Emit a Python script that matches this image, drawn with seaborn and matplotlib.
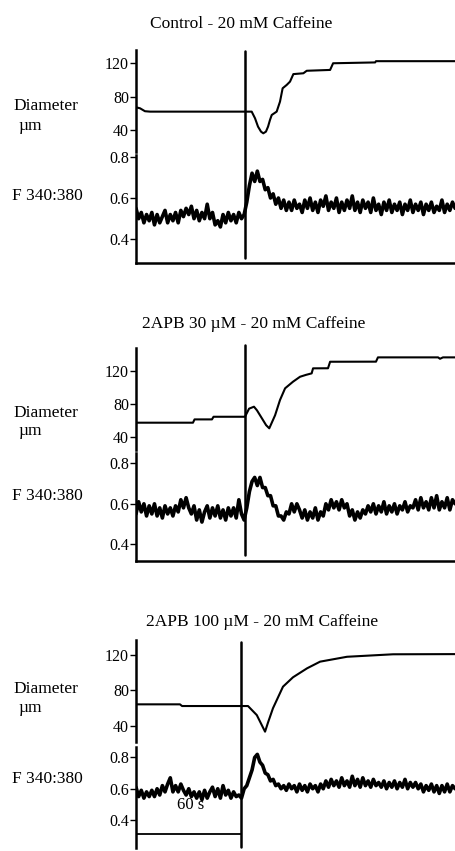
import numpy as np
import matplotlib
matplotlib.use("Agg")
import matplotlib.pyplot as plt
import matplotlib.transforms as mtransforms
import seaborn as sns

# ---------------- data ----------------
titles = ["Control - 20 mM Caffeine",
          "2APB 30 \u00b5M - 20 mM Caffeine",
          "2APB 100 \u00b5M - 20 mM Caffeine"]
stim_times = [62, 62, 60]          # s, caffeine application
diam_ticks = [40, 80, 120]
ratio_ticks = [0.4, 0.6, 0.8]
ratio_tick_labels = ["0.4", "0.6", "0.8"]
scale_bar_s = 60
scale_bar_label = "60 s"

# Diameter traces (time s, diameter um)
diam1_t = [0, 2.3, 5.1, 8, 65.8, 67.7, 69.4, 71.1, 72.4, 73.9, 75.1, 76.2, 77.2,
           80, 81.9, 83.4, 85.7, 87.6, 89.5, 95.2, 97.1, 110.4, 112.1, 136, 136.5, 181.5]
diam1_v = [67.2, 66, 62.5, 62, 62, 54, 44, 38, 36, 38, 44, 52, 58,
           62, 74, 90, 94, 98, 107, 108, 111, 112, 120, 121, 122.5, 122.5]

diam2_t = [0, 32.4, 33.3, 43.2, 44.1, 62, 64.3, 67.1, 68.8, 71.7, 74, 75.8, 79.1,
           81.9, 84.8, 89.3, 93.3, 96.7, 99.9, 100.7, 109.2, 110.4, 136.5, 137.6,
           171.8, 172.9, 174.6, 181.5]
diam2_v = [57, 57, 61, 61, 64.2, 64.2, 74, 76.4, 72, 62, 54, 50.2, 66,
           84.5, 98.7, 106.7, 112.7, 115, 116.8, 122.9, 123, 130.9, 131, 136.2,
           136.2, 134.5, 136.2, 136.2]

diam3_t = [0, 25, 26.2, 63.7, 68.7, 73.4, 75.1, 77.9, 83.6, 89.3, 97.3, 104.7,
           120, 146.2, 181.5]
diam3_v = [64.4, 64.4, 62.5, 62.5, 52.3, 33.6, 44, 60, 84.3, 94.9, 105, 112.5,
           118, 120.8, 121]

# Fura-2 ratio traces, sampled every 1.5 s
ratio_t = np.arange(0, 182, 1.5)
ratio1 = [0.55, 0.50, 0.53, 0.48, 0.52, 0.49, 0.53, 0.47, 0.52, 0.48,
          0.51, 0.54, 0.48, 0.52, 0.49, 0.53, 0.48, 0.54, 0.51, 0.55,
          0.52, 0.56, 0.50, 0.54, 0.49, 0.53, 0.50, 0.57, 0.50, 0.53,
          0.47, 0.49, 0.46, 0.52, 0.48, 0.53, 0.49, 0.52, 0.48, 0.53,
          0.50, 0.52,
          0.58, 0.66, 0.72, 0.68, 0.73, 0.68, 0.69, 0.64, 0.65, 0.60,
          0.62, 0.57, 0.60, 0.55, 0.59, 0.54,
          0.58, 0.54, 0.59, 0.55, 0.57, 0.53, 0.59, 0.55, 0.60, 0.54,
          0.58, 0.53, 0.59, 0.56, 0.61, 0.54, 0.58, 0.55, 0.60, 0.53,
          0.58, 0.54, 0.59, 0.55, 0.61, 0.54, 0.58, 0.53, 0.59, 0.55,
          0.58, 0.53, 0.60, 0.54, 0.57, 0.52, 0.58, 0.54, 0.59, 0.53,
          0.57, 0.54, 0.58, 0.52, 0.57, 0.54, 0.59, 0.53, 0.57, 0.54,
          0.58, 0.52, 0.57, 0.54, 0.58, 0.53, 0.56, 0.54, 0.59, 0.53,
          0.57, 0.54, 0.58, 0.55]
ratio2 = [0.55, 0.61, 0.56, 0.60, 0.54, 0.59, 0.55, 0.60, 0.54, 0.58,
          0.53, 0.59, 0.55, 0.58, 0.54, 0.59, 0.56, 0.62, 0.58, 0.63,
          0.58, 0.55, 0.59, 0.52, 0.57, 0.51, 0.56, 0.59, 0.53, 0.58,
          0.54, 0.59, 0.53, 0.57, 0.52, 0.58, 0.54, 0.58, 0.53, 0.62,
          0.55, 0.52,
          0.58, 0.66, 0.71, 0.73, 0.69, 0.73, 0.68, 0.68, 0.64, 0.64,
          0.59, 0.59, 0.54, 0.54, 0.52, 0.56,
          0.55, 0.60, 0.56, 0.60, 0.57,
          0.53, 0.57, 0.52, 0.56, 0.53, 0.58, 0.52, 0.56, 0.54,
          0.60, 0.57, 0.62, 0.58, 0.61, 0.57, 0.62, 0.58, 0.60,
          0.54, 0.57, 0.52, 0.56, 0.53, 0.57, 0.55, 0.59,
          0.56, 0.60, 0.55, 0.59, 0.56, 0.61, 0.55, 0.59, 0.56, 0.60,
          0.55, 0.59, 0.57, 0.61, 0.56, 0.59,
          0.58, 0.62, 0.57, 0.63, 0.58, 0.61, 0.57, 0.63, 0.58, 0.64,
          0.57, 0.61, 0.58, 0.63, 0.57, 0.62, 0.60]
ratio3 = [0.61, 0.55, 0.59, 0.54, 0.58, 0.55, 0.59, 0.55, 0.60, 0.56,
          0.62, 0.58, 0.63, 0.67, 0.58, 0.62, 0.58, 0.63, 0.59, 0.56,
          0.60, 0.55, 0.58, 0.54, 0.58, 0.53, 0.59, 0.54, 0.58, 0.61,
          0.55, 0.60, 0.54, 0.62, 0.56, 0.59, 0.54, 0.58, 0.55, 0.56,
          0.54, 0.60,
          0.62, 0.67, 0.72, 0.80, 0.82, 0.77, 0.75, 0.70, 0.69, 0.65,
          0.66, 0.62, 0.63, 0.60,
          0.62, 0.59, 0.63, 0.60, 0.62, 0.58, 0.63, 0.59, 0.62, 0.58,
          0.63, 0.60, 0.62, 0.58, 0.63, 0.60,
          0.65, 0.61, 0.66, 0.62, 0.65, 0.61, 0.67, 0.62, 0.65, 0.61,
          0.68, 0.62, 0.66, 0.61, 0.67, 0.62, 0.65, 0.61, 0.66, 0.62,
          0.64,
          0.61, 0.65, 0.60, 0.64, 0.61, 0.65, 0.60, 0.64, 0.61, 0.66,
          0.60, 0.64, 0.61, 0.64, 0.60, 0.63,
          0.58, 0.62, 0.59, 0.63, 0.58, 0.62, 0.57, 0.62, 0.58, 0.63,
          0.58, 0.62, 0.60]

diam_t = [diam1_t, diam2_t, diam3_t]
diam_v = [diam1_v, diam2_v, diam3_v]
ratios = [ratio1, ratio2, ratio3]

# ---------------- layout (pixels) ----------------
W, H = 456, 851
AX_L, AX_R = 136, 456
XLIM = (0, 182)
panels = [
    dict(diam_box=(50, 151.5), diam_ylim=(14.2, 135.9),
         ratio_box=(155, 262.5), ratio_ylim=(0.288, 0.808),
         stim_px=(50.7, 258.3), title_xy=(241.5, 28),
         diam_lab_y=110, um_lab_y=130, f_lab_y=200, bottom_spine=True),
    dict(diam_box=(348.3, 450), diam_ylim=(23.9, 147.2),
         ratio_box=(453.3, 561), ratio_ylim=(0.318, 0.849),
         stim_px=(345, 555), title_xy=(253.5, 328),
         diam_lab_y=417, um_lab_y=435, f_lab_y=500, bottom_spine=True),
    dict(diam_box=(640, 741.7), diam_ylim=(22.3, 136.9),
         ratio_box=(746.7, 848), ratio_ylim=(0.221, 0.869),
         stim_px=(641.7, 846.7), title_xy=(262.5, 626.5),
         diam_lab_y=693, um_lab_y=712, f_lab_y=783, bottom_spine=False),
]

sns.set_theme(style="ticks")
plt.rcParams["font.family"] = ["Liberation Serif", "DejaVu Serif"]

fig = plt.figure(figsize=(W / 100, H / 100), dpi=100)
fig.patch.set_facecolor("white")

LW_SPINE = 1.8
FS_TXT = 12.5
FS_TICK = 11.5


def add_ax(top, bottom):
    return fig.add_axes([AX_L / W, 1 - bottom / H, (AX_R - AX_L) / W, (bottom - top) / H])


def style_ax(ax, ticks, labels, ylim, bottom):
    ax.set_xlim(*XLIM)
    ax.set_ylim(*ylim)
    ax.set_facecolor("none")
    for s in ["top", "right"]:
        ax.spines[s].set_visible(False)
    ax.spines["bottom"].set_visible(bottom)
    ax.spines["left"].set_linewidth(LW_SPINE)
    ax.spines["bottom"].set_linewidth(LW_SPINE)
    ax.spines["left"].set_color("black")
    ax.spines["bottom"].set_color("black")
    ax.set_xticks([])
    ax.set_yticks(ticks)
    ax.set_yticklabels(labels)
    ax.tick_params(axis="y", direction="out", length=4, width=1, pad=1,
                   labelsize=FS_TICK, colors="black")
    ax.set_xlabel("")
    ax.set_ylabel("")
    ax.grid(False)


for i, p in enumerate(panels):
    dtop, dbot = p["diam_box"]
    rtop, rbot = p["ratio_box"]
    ax_d = add_ax(dtop, dbot)
    ax_r = add_ax(rtop, rbot)

    sns.lineplot(x=diam_t[i], y=diam_v[i], ax=ax_d, color="black", linewidth=1.5,
                 estimator=None, sort=False, legend=False)
    sns.lineplot(x=ratio_t, y=ratios[i], ax=ax_r, color="black", linewidth=2.6,
                 estimator=None, sort=False, legend=False)

    style_ax(ax_d, diam_ticks, [str(v) for v in diam_ticks], p["diam_ylim"], False)
    style_ax(ax_r, ratio_ticks, ratio_tick_labels, p["ratio_ylim"], p["bottom_spine"])

    # caffeine application line spanning both traces
    s_top, s_bot = p["stim_px"]
    h = dbot - dtop
    ax_d.axvline(stim_times[i], ymin=(dbot - s_bot) / h, ymax=(dbot - s_top) / h,
                 color="black", linewidth=1.8, clip_on=False)

    # title and left labels
    tx, ty = p["title_xy"]
    fig.text(tx / W, 1 - ty / H, titles[i], ha="center", va="baseline",
             fontsize=FS_TXT, color="black")
    fig.text(13 / W, 1 - p["diam_lab_y"] / H, "Diameter", ha="left", va="baseline",
             fontsize=FS_TXT, color="black")
    fig.text(18 / W, 1 - p["um_lab_y"] / H, "\u00b5m", ha="left", va="baseline",
             fontsize=FS_TXT, color="black")
    fig.text(12 / W, 1 - p["f_lab_y"] / H, "F 340:380", ha="left", va="baseline",
             fontsize=FS_TXT, color="black")

    if not p["bottom_spine"]:
        trans = mtransforms.blended_transform_factory(ax_r.transData, ax_r.transAxes)
        ybar = (rbot - 834) / (rbot - rtop)
        ax_r.plot([0, scale_bar_s], [ybar, ybar], transform=trans, color="black",
                  linewidth=1.3, clip_on=False, solid_capstyle="butt")
        ax_r.text(scale_bar_s / 2 + 1, (rbot - 809) / (rbot - rtop), scale_bar_label,
                  transform=trans, ha="center", va="baseline", fontsize=12, color="black")

fig.savefig("out.png", dpi=100, facecolor="white")
